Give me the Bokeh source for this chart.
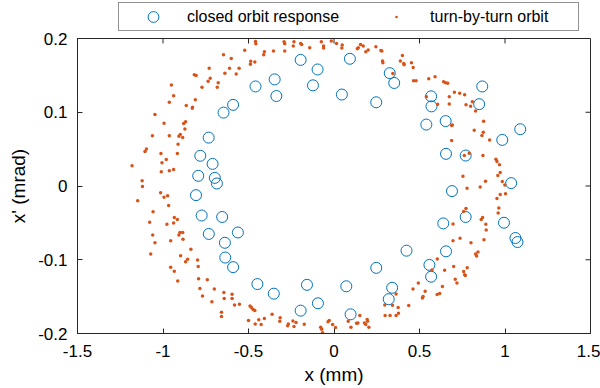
from bokeh.plotting import figure
from bokeh.models import (ColumnDataSource, Legend, LegendItem,
                          FixedTicker, Range1d)
from bokeh.layouts import column
from bokeh.embed import file_html
from bokeh.resources import INLINE

# ---------------- data ----------------
x_ticks = [-1.5, -1, -0.5, 0, 0.5, 1, 1.5]
x_tick_labels = ["-1.5", "-1", "-0.5", "0", "0.5", "1", "1.5"]
y_ticks = [-0.2, -0.1, 0, 0.1, 0.2]
y_tick_labels = ["-0.2", "-0.1", "0", "0.1", "0.2"]

series_names = ["closed orbit response", "turn-by-turn orbit"]

# closed orbit response (x in mm, x' in mrad)
closed_orbit = [
    (-0.459, 0.135), (-0.590, 0.110), (-0.646, 0.0995), (-0.733, 0.0656),
    (-0.782, 0.041), (-0.710, 0.030), (-0.794, 0.0138), (-0.697, 0.011),
    (-0.685, 0.0034),
    (-0.807, -0.0124), (-0.774, -0.040), (-0.654, -0.042), (-0.732, -0.065),
    (-0.562, -0.063), (-0.638, -0.077), (-0.636, -0.097), (-0.590, -0.110),
    (-0.448, -0.133),
    (-0.195, 0.171), (-0.347, 0.1446), (-0.337, 0.122), (-0.096, 0.158),
    (-0.123, 0.1365), (0.093, 0.1725), (0.046, 0.124), (0.247, 0.1135),
    (0.326, 0.153), (0.352, 0.1397),
    (-0.352, -0.146), (-0.158, -0.134), (-0.195, -0.169), (-0.094, -0.159),
    (0.072, -0.136), (0.097, -0.174), (0.247, -0.111), (0.340, -0.138),
    (0.320, -0.1535), (0.424, -0.0877),
    (0.867, 0.135), (0.568, 0.1216), (0.570, 0.108), (0.849, 0.111),
    (0.540, 0.0833), (0.653, 0.088), (1.089, 0.077), (0.984, 0.0625),
    (0.655, 0.0436), (0.770, 0.0413), (1.036, 0.0039),
    (0.690, -0.0069), (0.770, -0.042), (0.639, -0.0507), (0.994, -0.0498),
    (1.061, -0.0705), (1.073, -0.076), (0.655, -0.0886), (0.558, -0.107),
    (0.568, -0.123),
]

# turn-by-turn orbit, grouped by region of the ellipse
tbt_upper_left = [
    (-0.459, 0.196), (-0.457, 0.193), (-0.407, 0.182), (-0.411, 0.178),
    (-0.522, 0.184), (-0.646, 0.178), (-0.601, 0.173), (-0.487, 0.169),
    (-0.463, 0.168), (-0.489, 0.165), (-0.730, 0.1595), (-0.611, 0.1595),
    (-0.555, 0.1595), (-0.638, 0.153), (-0.572, 0.152), (-0.817, 0.151),
    (-0.806, 0.150), (-0.724, 0.146), (-0.736, 0.142), (-0.677, 0.140),
    (-0.683, 0.134), (-0.772, 0.134), (-0.951, 0.137), (-0.938, 0.1225),
    (-0.963, 0.1135), (-0.811, 0.117), (-0.864, 0.109), (-0.827, 0.1067),
    (-0.829, 0.1053), (-1.047, 0.097), (-0.994, 0.085), (-0.868, 0.087),
    (-0.879, 0.0846), (-0.872, 0.0774), (-1.062, 0.068), (-0.963, 0.068),
    (-0.899, 0.070), (-0.907, 0.0675), (-0.885, 0.0657), (-0.912, 0.0566),
    (-1.097, 0.0503), (-1.105, 0.0467), (-1.012, 0.044), (-0.916, 0.044),
    (-0.981, 0.036), (-1.006, 0.0314), (-1.181, 0.0273), (-1.010, 0.0192),
    (-0.963, 0.0206), (-0.938, 0.0224), (-1.122, 0.007), (-1.120, -0.0006),
]
tbt_lower_left = [
    (-1.014, -0.0092), (-0.994, -0.0151), (-0.973, -0.0133), (-1.148, -0.020),
    (-0.967, -0.0263), (-1.058, -0.0349), (-0.934, -0.0426), (-0.916, -0.0453),
    (-0.938, -0.0502), (-0.977, -0.0520), (-1.078, -0.0493), (-0.901, -0.0629),
    (-0.885, -0.0629), (-0.907, -0.0665), (-1.060, -0.0665), (-1.047, -0.0769),
    (-0.955, -0.0741), (-0.883, -0.0723), (-0.837, -0.0859), (-1.072, -0.0922),
    (-0.897, -0.0945), (-0.798, -0.1003), (-0.856, -0.0994), (-0.868, -0.1026),
    (-0.794, -0.1093), (-0.955, -0.1102), (-0.934, -0.1156), (-0.914, -0.1287),
    (-0.792, -0.1256), (-0.741, -0.127), (-0.784, -0.1391), (-0.700, -0.1396),
    (-0.769, -0.149), (-0.644, -0.1445), (-0.596, -0.1468), (-0.642, -0.1526),
    (-0.596, -0.1526), (-0.714, -0.1571), (-0.582, -0.1612), (-0.553, -0.1603),
    (-0.491, -0.1626), (-0.483, -0.1648), (-0.473, -0.1675), (-0.463, -0.1689),
    (-0.658, -0.1711), (-0.658, -0.177), (-0.500, -0.1824), (-0.440, -0.1815),
    (-0.407, -0.1797), (-0.461, -0.187), (-0.426, -0.1878),
]
tbt_top = [
    (-0.292, 0.1956), (-0.288, 0.1929), (-0.234, 0.1956), (-0.238, 0.1897),
    (-0.195, 0.1933), (-0.189, 0.1920), (-0.142, 0.1874), (-0.074, 0.1956),
    (-0.061, 0.1897), (-0.061, 0.187), (-0.016, 0.1965), (0.015, 0.1933),
    (0.048, 0.1911), (0.046, 0.187), (0.136, 0.1861), (0.142, 0.1874),
    (0.155, 0.192), (0.171, 0.1897), (0.186, 0.182), (0.200, 0.1843),
    (0.245, 0.1888), (0.274, 0.1838), (0.280, 0.1829), (-0.354, 0.1829),
    (-0.288, 0.1829), (0.284, 0.1694), (0.286, 0.1671), (0.400, 0.177),
    (0.388, 0.1694), (0.408, 0.1662), (0.410, 0.1644), (0.453, 0.1671),
    (0.463, 0.1608), (0.465, 0.1428), (0.480, 0.1428), (0.344, 0.1527),
]
tbt_bottom = [
    (-0.362, -0.1738), (-0.315, -0.1788), (-0.317, -0.1833), (-0.267, -0.187),
    (-0.271, -0.1896), (-0.240, -0.1829), (-0.222, -0.1851), (-0.234, -0.1905),
    (-0.174, -0.1874), (-0.078, -0.1914), (-0.072, -0.1941), (-0.067, -0.199),
    (-0.035, -0.1842), (-0.028, -0.1824), (-0.008, -0.1878), (0.009, -0.1919),
    (0.083, -0.1833), (0.099, -0.1914), (0.132, -0.186), (0.140, -0.1856),
    (0.151, -0.1756), (0.178, -0.1856), (0.186, -0.1878), (0.194, -0.181),
    (0.196, -0.1833), (0.204, -0.1914), (0.297, -0.1612), (0.342, -0.1616),
    (0.363, -0.1463), (0.375, -0.1648), (0.299, -0.1756), (0.328, -0.1756),
    (0.363, -0.1756), (0.377, -0.1725), (0.437, -0.162), (0.462, -0.1396),
    (0.493, -0.1314),
]
tbt_upper_right = [
    (0.554, 0.1455), (0.591, 0.1482), (0.641, 0.1414), (0.653, 0.1401),
    (0.665, 0.1392), (0.704, 0.127), (0.735, 0.1256), (0.764, 0.1238),
    (0.540, 0.1211), (0.606, 0.1108), (0.674, 0.1211), (0.674, 0.1112),
    (0.772, 0.1103), (0.799, 0.1081), (0.809, 0.1144), (0.828, 0.1017),
    (0.875, 0.0878), (0.692, 0.0828), (0.688, 0.0819), (0.820, 0.0756),
    (0.873, 0.0729), (0.865, 0.0684), (0.910, 0.0625), (0.688, 0.0616),
    (0.791, 0.0445), (0.762, 0.0413), (0.871, 0.0413), (0.947, 0.0363),
    (0.953, 0.0332), (0.968, 0.0287), (0.972, 0.0183), (0.958, 0.0142),
    (0.754, 0.0133), (0.984, 0.0061), (0.999, 0.0012), (0.886, 0.0066),
    (0.855, -0.0015), (0.778, -0.0029),
]
tbt_lower_right = [
    (0.972, -0.0115), (1.003, -0.0106), (0.953, -0.0169), (0.964, -0.0299),
    (0.960, -0.0367), (0.772, -0.0304), (0.758, -0.0345), (0.869, -0.0426),
    (0.861, -0.0453), (0.888, -0.052), (0.696, -0.0516), (0.890, -0.0597),
    (0.737, -0.0710), (0.696, -0.0741), (0.801, -0.0769), (0.877, -0.0728),
    (0.842, -0.0895), (0.828, -0.0922), (0.834, -0.0949), (0.604, -0.099),
    (0.573, -0.1138), (0.647, -0.1143), (0.700, -0.1093), (0.779, -0.1107),
    (0.758, -0.1161), (0.764, -0.1202), (0.768, -0.1215), (0.709, -0.1265),
    (0.719, -0.1314), (0.634, -0.1364), (0.533, -0.1427), (0.521, -0.1499),
    (0.517, -0.1517), (0.618, -0.1459), (0.603, -0.1472),
]

# ---------------- build ----------------
turn_by_turn = (tbt_upper_left + tbt_lower_left + tbt_top + tbt_bottom
                + tbt_upper_right + tbt_lower_right)

co_src = ColumnDataSource(data=dict(x=[a for a, b in closed_orbit],
                                    y=[b for a, b in closed_orbit]))
tbt_src = ColumnDataSource(data=dict(x=[a for a, b in turn_by_turn],
                                     y=[b for a, b in turn_by_turn]))

FONT = "Liberation Sans"
AX = "#262626"
BLUE = "#0072BD"
ORANGE = "#D95319"

W = 600
LEG_H = 32           # strip holding the legend
H = 388 - LEG_H      # main plot
BL, BR, BT, BB = 77, 10, 6, 55
TICK = 5  # px, inward

co_style = dict(marker="circle", size=11, fill_color=None,
                line_color=BLUE, line_width=1)
tbt_style = dict(marker="dot", size=14, line_color=ORANGE,
                 fill_color=ORANGE)

# ---- main plot ----
p = figure(width=W, height=H,
           x_range=Range1d(x_ticks[0], x_ticks[-1]),
           y_range=Range1d(y_ticks[0], y_ticks[-1]),
           output_backend="svg", toolbar_location=None,
           min_border_left=BL, min_border_right=BR,
           min_border_top=BT, min_border_bottom=BB)
p.grid.visible = False
p.outline_line_color = AX
p.outline_line_width = 1
p.background_fill_color = "white"
p.border_fill_color = "white"

p.scatter(x="x", y="y", source=co_src, **co_style)
p.scatter(x="x", y="y", source=tbt_src, **tbt_style)

# mirrored inward ticks on the top and right edges of the box
dx_tick = TICK * (x_ticks[-1] - x_ticks[0]) / (W - BL - BR)
dy_tick = TICK * (y_ticks[-1] - y_ticks[0]) / (H - BT - BB)
inner_x = x_ticks[1:-1]
inner_y = y_ticks[1:-1]
p.segment(x0=inner_x, x1=inner_x,
          y0=[y_ticks[-1]] * len(inner_x),
          y1=[y_ticks[-1] - dy_tick] * len(inner_x),
          line_color=AX, line_width=1)
p.segment(x0=[x_ticks[-1]] * len(inner_y),
          x1=[x_ticks[-1] - dx_tick] * len(inner_y),
          y0=inner_y, y1=inner_y, line_color=AX, line_width=1)

for ax, ticks, labels in ((p.xaxis[0], x_ticks, x_tick_labels),
                          (p.yaxis[0], y_ticks, y_tick_labels)):
    ax.ticker = FixedTicker(ticks=ticks)
    ax.major_label_overrides = dict(zip(ticks, labels))
    ax.major_tick_in = TICK
    ax.major_tick_out = 0
    ax.minor_tick_line_color = None
    ax.axis_line_color = AX
    ax.major_tick_line_color = AX
    ax.major_label_text_font = FONT
    ax.major_label_text_font_size = "17px"
    ax.major_label_text_color = "black"
    ax.axis_label_text_font = FONT
    ax.axis_label_text_font_size = "19px"
    ax.axis_label_text_font_style = "normal"
    ax.axis_label_text_color = "black"

p.xaxis.axis_label = "x (mm)"
p.yaxis.axis_label = "x' (mrad)"
p.xaxis.major_label_standoff = 11
p.xaxis.axis_label_standoff = 4
p.yaxis.major_label_standoff = 10
p.yaxis.axis_label_standoff = 6

# ---- legend strip above the plot (its glyphs lie outside its ranges) ----
# the strip's frame is aligned with the main frame by the column layout
pl = figure(width=W, height=LEG_H,
            x_range=Range1d(x_ticks[0], x_ticks[-1]),
            y_range=Range1d(10, 11),
            x_axis_location=None, y_axis_location=None,
            output_backend="svg", toolbar_location=None,
            min_border_left=0, min_border_right=0,
            min_border_top=0, min_border_bottom=0)
pl.grid.visible = False
pl.outline_line_color = None
pl.background_fill_color = "white"
pl.border_fill_color = "white"
l_co = pl.scatter(x="x", y="y", source=co_src, **co_style)
l_tbt = pl.scatter(x="x", y="y", source=tbt_src, **tbt_style)

legend = Legend(
    items=[LegendItem(label=series_names[0], renderers=[l_co]),
           LegendItem(label=series_names[1], renderers=[l_tbt])],
    orientation="horizontal", location=(41, 1), margin=0,
    padding=0, spacing=23, glyph_width=68, glyph_height=27,
    label_standoff=0, label_width=148,
    label_text_font=FONT, label_text_font_size="16px",
    label_text_color="black",
    border_line_color=AX, border_line_width=1,
    background_fill_color="white", background_fill_alpha=1.0)
pl.add_layout(legend, "center")

layout = column(pl, p, spacing=0)
open("out.html", "w").write(file_html(layout, INLINE))
